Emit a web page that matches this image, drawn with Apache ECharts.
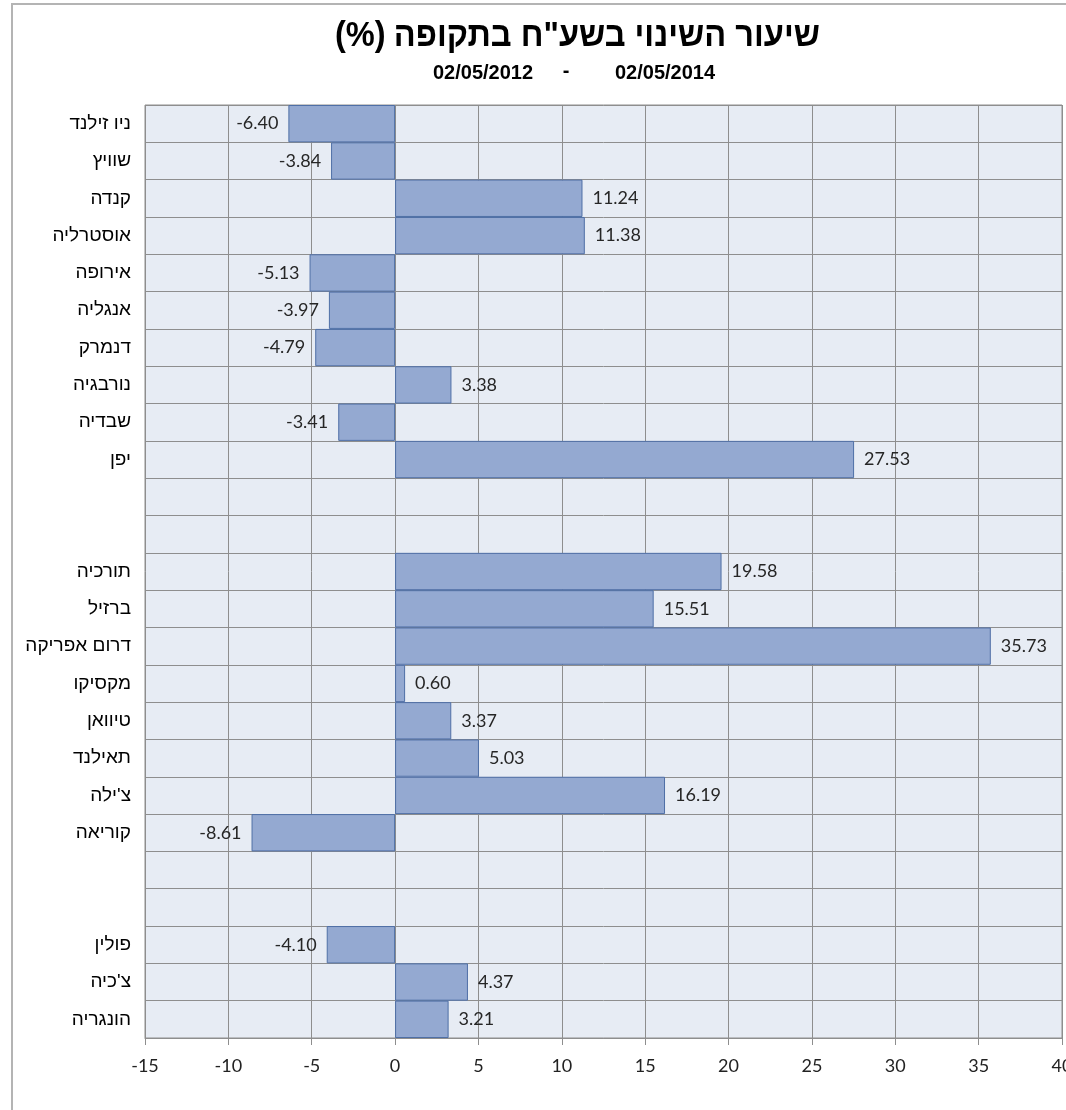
<!DOCTYPE html>
<html>
<head>
<meta charset="utf-8">
<script src="https://cdn.jsdelivr.net/npm/echarts@6/dist/echarts.min.js"></script>
<style>
  html, body { margin: 0; padding: 0; background: #ffffff; }
  #chart { width: 1066px; height: 1110px; }
</style>
</head>
<body>
<div id="chart"></div>
<script>
// Exchange-rate change per country over the period, in percent.
// Blank rows separate the country groups.
const countries = [
  'ניו זילנד', 'שוויץ', 'קנדה', 'אוסטרליה', 'אירופה', 'אנגליה', 'דנמרק', 'נורבגיה', 'שבדיה', 'יפן',
  ' ', '  ',
  'תורכיה', 'ברזיל', 'דרום אפריקה', 'מקסיקו', 'טיוואן', 'תאילנד', 'צ\'ילה', 'קוריאה',
  '   ', '    ',
  'פולין', 'צ\'כיה', 'הונגריה'
];
const changes = [
  -6.40, -3.84, 11.24, 11.38, -5.13, -3.97, -4.79, 3.38, -3.41, 27.53,
  null, null,
  19.58, 15.51, 35.73, 0.60, 3.37, 5.03, 16.19, -8.61,
  null, null,
  -4.10, 4.37, 3.21
];
const axisTicks = { min: -15, max: 40, step: 5 };
const titleWords = 'שיעור השינוי בשע"ח בתקופה';
const titleUnit = '(%)';
const periodFrom = '02/05/2012';
const periodTo = '02/05/2014';

const chart = echarts.init(document.getElementById('chart'), null, { renderer: 'canvas' });

const barData = changes.map(v => v === null ? null : {
  value: v,
  label: { position: v < 0 ? 'left' : 'right' }
});

const titleFont = 'bold 35px "Liberation Sans", Arial, sans-serif';
const subFont = 'bold 20px "Liberation Sans", Arial, sans-serif';

chart.setOption({
  animation: false,
  backgroundColor: '#ffffff',
  graphic: [
    {
      type: 'rect',
      shape: { x: 12, y: 4, width: 1100, height: 1150 },
      style: { fill: 'none', stroke: '#b4b4b4', lineWidth: 2 },
      z: -10
    },
    {
      // Hebrew part of the title, right-aligned; unit drawn separately on its left
      type: 'text',
      x: 820, y: 36,
      scaleX: 0.93,
      style: {
        text: titleWords,
        font: titleFont,
        fill: '#000000',
        align: 'right', verticalAlign: 'middle'
      }
    },
    {
      type: 'text',
      x: 335, y: 36,
      scaleX: 0.93,
      style: {
        text: titleUnit,
        font: titleFont,
        fill: '#000000',
        align: 'left', verticalAlign: 'middle'
      }
    },
    {
      type: 'text',
      x: 483, y: 73,
      style: {
        text: periodFrom,
        font: subFont,
        fill: '#000000',
        align: 'center', verticalAlign: 'middle'
      }
    },
    {
      type: 'text',
      x: 566, y: 71,
      style: {
        text: '-',
        font: subFont,
        fill: '#000000',
        align: 'center', verticalAlign: 'middle'
      }
    },
    {
      type: 'text',
      x: 665, y: 73,
      style: {
        text: periodTo,
        font: subFont,
        fill: '#000000',
        align: 'center', verticalAlign: 'middle'
      }
    }
  ],
  grid: {
    left: 145,
    right: 4,
    top: 105,
    bottom: 72,
    containLabel: false,
    outerBoundsMode: 'none',
    show: true,
    backgroundColor: '#e7ecf4',
    borderColor: '#8e8e8e',
    borderWidth: 1
  },
  xAxis: {
    type: 'value',
    min: axisTicks.min,
    max: axisTicks.max,
    interval: axisTicks.step,
    axisLine: { show: true, onZero: false, lineStyle: { color: '#8e8e8e', width: 1 } },
    axisTick: { show: true, inside: false, length: 7, lineStyle: { color: '#8e8e8e' } },
    splitLine: { show: true, lineStyle: { color: '#8e8e8e', width: 1 } },
    axisLabel: {
      margin: 19,
      fontFamily: 'Lato, "Open Sans", sans-serif',
      fontSize: 18,
      color: '#222222',
      showMaxLabel: true,
      hideOverlap: false
    }
  },
  yAxis: {
    type: 'category',
    inverse: true,
    data: countries,
    axisLine: { show: false },
    axisTick: { show: false },
    splitLine: { show: true, interval: 0, lineStyle: { color: '#8e8e8e', width: 1 } },
    axisLabel: {
      interval: 0,
      margin: 14,
      fontFamily: '"Liberation Sans", Arial, sans-serif',
      fontSize: 19,
      color: '#000000'
    }
  },
  series: [
    {
      type: 'bar',
      data: barData,
      barCategoryGap: '0%',
      barWidth: '100%',
      itemStyle: {
        color: '#94a9d1',
        borderColor: '#4f6fa6',
        borderWidth: 1
      },
      label: {
        show: true,
        distance: 10,
        fontFamily: 'Lato, "Open Sans", sans-serif',
        fontSize: 18,
        color: '#262626',
        formatter: p => p.value.toFixed(2)
      }
    }
  ]
});
</script>
</body>
</html>
